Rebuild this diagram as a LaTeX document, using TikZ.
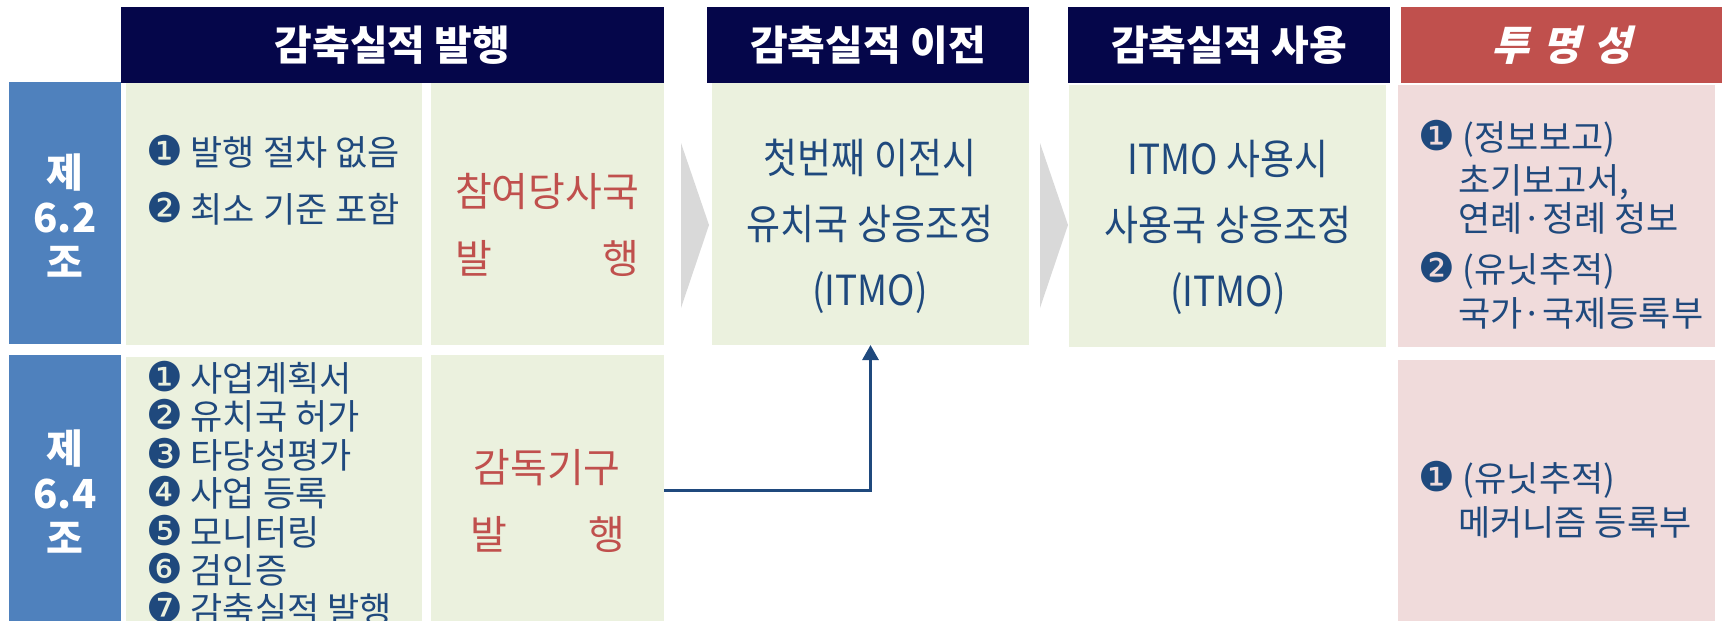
\documentclass[tikz,border=0pt]{standalone}
\usepackage{fontspec}
\usetikzlibrary{arrows.meta}

\newfontfamily\krfont{Noto Sans CJK KR}
\newfontfamily\krbody{Noto Sans CJK KR}[FakeStretch=0.89]
\newfontfamily\krslant{Noto Sans CJK KR}[FakeSlant=0.25]
\newfontfamily\symfont{DejaVu Sans}

\definecolor{navy}{HTML}{05064A}
\definecolor{sideblue}{HTML}{4F81BD}
\definecolor{paleg}{HTML}{EBF1DE}
\definecolor{palep}{HTML}{F0DBDB}
\definecolor{redh}{HTML}{C0504D}
\definecolor{tblue}{HTML}{1F497D}
\definecolor{chev}{HTML}{D9D9D9}

\newcommand{\num}[1]{{\symfont\fontsize{41}{41}\selectfont #1}}

\begin{document}
\begin{tikzpicture}[x=1pt,y=-1pt,
    box/.style={anchor=north west, inner sep=0, outer sep=0},
    head/.style={text=white, inner sep=0, font=\krfont\bfseries\fontsize{41}{44}\selectfont},
    side/.style={text=white, align=center, inner sep=0, font=\krfont\bfseries\fontsize{40}{45}\selectfont},
    item/.style={anchor=west, inner sep=0, text=tblue, text height=29pt, text depth=2.5pt,
        font=\krfont\fontsize{35}{38}\selectfont},
    body/.style={align=center, inner sep=0, text=tblue, font=\krbody\fontsize{41.5}{66}\selectfont},
    red/.style={inner sep=0, text=redh, text height=33pt, text depth=3pt,
        font=\krfont\fontsize{40}{42}\selectfont},
    link/.style={draw=tblue, line width=3pt, -{Triangle[width=16pt,length=15pt]}}]
    \useasboundingbox (0,0) rectangle (1725,621);
    \clip (0,0) rectangle (1725,621);

    % boxes
    \foreach \nm/\xa/\ya/\w/\h/\col in {
        hd1/121/7/543/76/navy, hd2/707/7/322/76/navy, hd3/1068/7/322/76/navy, hd4/1401/7/321/76/redh,
        sd62/9/82/112/262/sideblue, sd64/9/355/112/270/sideblue,
        g62a/126/83/296/262/paleg, g62b/431/83/233/262/paleg,
        g64a/126/357/296/268/paleg, g64b/431/355/233/270/paleg,
        gtr/712/83/317/262/paleg, guse/1069/85/317/262/paleg,
        pk1/1398/85/317/262/palep, pk2/1398/360/317/265/palep}
    \node[box, fill=\col, minimum width=\w, minimum height=\h] (\nm) at (\xa,\ya) {};

    \foreach \xa in {681,1040}
    \fill[chev] (\xa,143) -- ({\xa+28},225) -- (\xa,308) -- cycle;

    % headers
    \foreach \nm/\t in {hd1/감축실적 발행, hd2/감축실적 이전, hd3/감축실적 사용}
    \node[head] (t-\nm) at (\nm) {\t};
    \node[head, font=\krslant\bfseries\fontsize{41}{44}\selectfont] (t-hd4) at (hd4) {투\hspace{13pt}명\hspace{13pt}성};

    \node[side] (l62) at (65,216) {제\\6.2\\조};
    \node[side] (l64) at (65,492) {제\\6.4\\조};

    % articles
    \foreach \c/\t [count=\i] in {❶/발행 절차 없음, ❷/최소 기준 포함}
    \node[item] (i62-\i) at (146,{152+57*(\i-1)}) {\num{\c} \t};
    \foreach \c/\t [count=\i] in {❶/사업계획서, ❷/유치국 허가, ❸/타당성평가, ❹/사업 등록, ❺/모니터링, ❻/검인증, ❼/감축실적 발행}
    \node[item] (i64-\i) at (146,{378+38.5*(\i-1)}) {\num{\c} \t};

    \node[red] (r62) at (547,191) {참여당사국};
    \node[red, anchor=west] (r62a) at (r62.west |- 0,258) {발};
    \node[red, anchor=east] (r62b) at (r62.east |- 0,258) {행};
    \node[red] (r64) at (547,467) {감독기구};
    \node[red, anchor=west] (r64a) at ([xshift=-3pt]r64.west |- 0,534) {발};
    \node[red, anchor=east] (r64b) at ([xshift=5pt]r64.east |- 0,534) {행};

    \node[body] (t-tr) at (870,226) {첫번째 이전시\\유치국 상응조정\\(ITMO)};
    \node[body] (t-use) at (1228,227) {ITMO 사용시\\사용국 상응조정\\(ITMO)};

    % transparency
    \node[item] (p1-1) at (1418,137) {\num{❶} (정보보고)};
    \node[item] (p1-2) at (1458,180) {초기보고서,};
    \node[item] (p1-3) at (1458,218) {연례·정례 정보};
    \node[item] (p1-4) at (1418,269) {\num{❷} (유닛추적)};
    \node[item] (p1-5) at (1458,313) {국가·국제등록부};
    \node[item] (p2-1) at (1418,478) {\num{❶} (유닛추적)};
    \node[item] (p2-2) at (1458,522) {메커니즘 등록부};

    \draw[link] (g64b.east) -| (gtr.south);
\end{tikzpicture}
\end{document}
